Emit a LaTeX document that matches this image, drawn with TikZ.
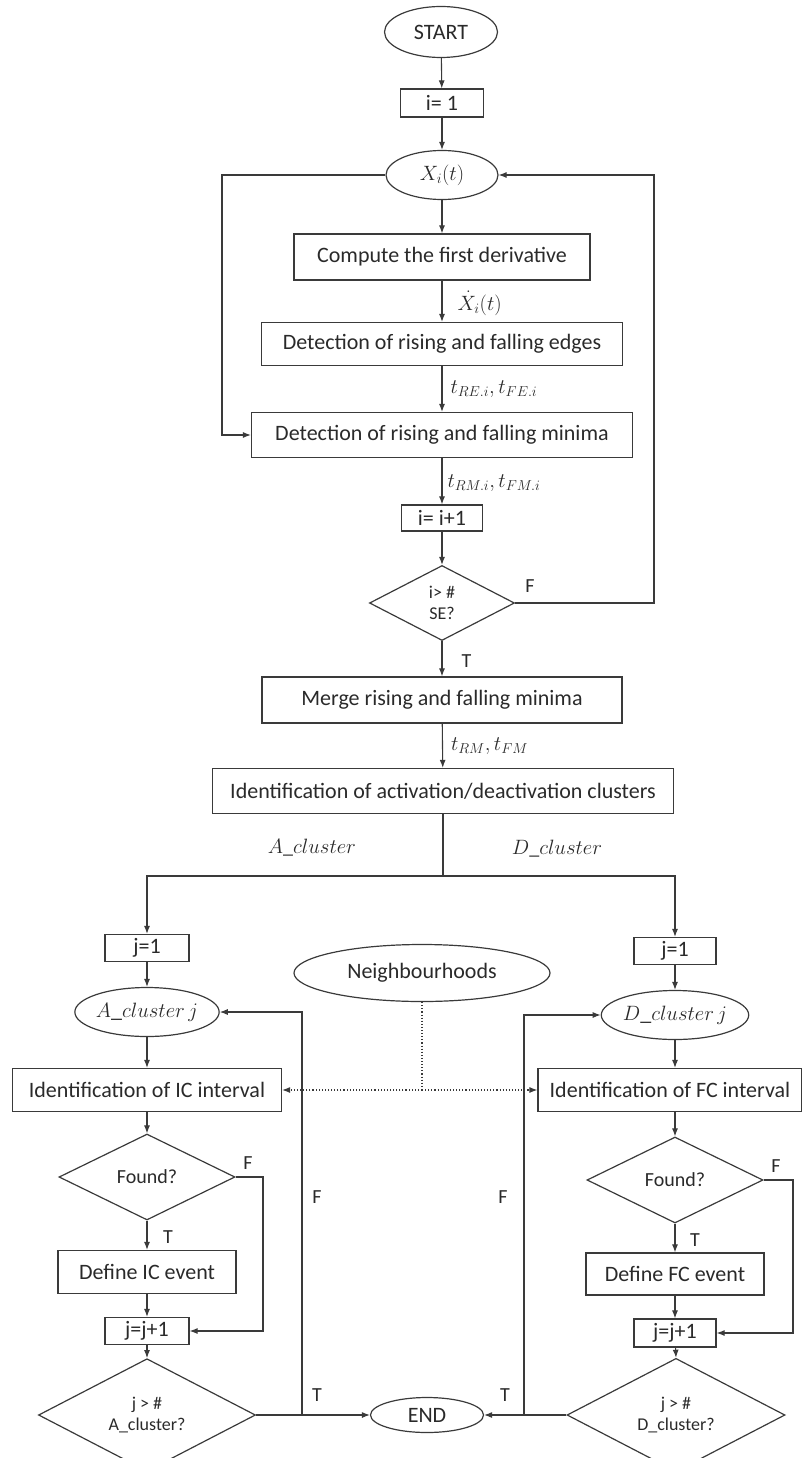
\documentclass[tikz,border=0pt]{standalone}
\usepackage{fontspec}
\setmainfont{Carlito}
\usetikzlibrary{shapes.geometric,arrows.meta}
\definecolor{ink}{HTML}{2A2A2A}
\definecolor{ln}{HTML}{3A3A3A}
\tikzset{
  base/.style={draw=ln, line width=1.2pt, inner sep=0pt, text=ink, font=\fontsize{22}{25}\selectfont},
  boxn/.style={base, rectangle},
  term/.style={base, ellipse},
  dec/.style={base, diamond, align=center, font=\fontsize{18}{21}\selectfont},
  arr/.style={draw=ln, line width=1.1pt, -{Latex[length=8pt,width=6pt]}},
  ln/.style={draw=ln, line width=1.1pt},
  dots/.style={draw=ln, line width=1.1pt, dotted},
  lab/.style={text=ink, font=\fontsize{20}{24}\selectfont, inner sep=0pt},
  mlab/.style={text=ink, font=\fontsize{20}{24}\selectfont, inner sep=0pt, anchor=west}
}
\begin{document}
\begin{tikzpicture}[x=1pt,y=-1pt]
\useasboundingbox (0,0) rectangle (802,1458);
% main column
\node[term, minimum width=113pt, minimum height=51pt] (start) at (441,32) {START};
\node[boxn, minimum width=83pt, minimum height=28pt] (i1) at (442,103) {i= 1};
\node[term, minimum width=112pt, minimum height=49pt] (xi) at (442,175) {$X_i(t)$};
\node[boxn, minimum width=296pt, minimum height=46pt] (comp) at (442,257) {Compute the first derivative};
\node[boxn, minimum width=361pt, minimum height=43pt] (edges) at (442,344) {Detection of rising and falling edges};
\node[boxn, minimum width=381pt, minimum height=45pt] (minima) at (442,435) {Detection of rising and falling minima};
\node[boxn, minimum width=81pt, minimum height=26pt] (ii) at (442,518) {i= i+1};
\node[dec, minimum width=145pt, minimum height=75pt] (d1) at (442,603) {i> \#\\SE?};
\node[boxn, minimum width=360pt, minimum height=46pt] (merge) at (442,700) {Merge rising and falling minima};
\node[boxn, minimum width=461pt, minimum height=45pt] (ident) at (443,791) {Identification of activation/deactivation clusters};
% left column
\node[boxn, minimum width=84pt, minimum height=27pt] (jA) at (147,948) {j=1};
\node[term, minimum width=136pt, minimum height=49pt] (acj) at (147,1012) {$A\_cluster\,j$};
\node[boxn, minimum width=269pt, minimum height=43pt] (ic) at (147,1090) {Identification of IC interval};
\node[dec, minimum width=176pt, minimum height=86pt, font=\fontsize{20}{24}\selectfont] (fA) at (147,1177) {Found?};
\node[boxn, minimum width=178pt, minimum height=43pt] (defA) at (147,1272) {Define IC event};
\node[boxn, minimum width=84pt, minimum height=27pt] (jjA) at (147,1331) {j=j+1};
\node[dec, minimum width=217pt, minimum height=86pt] (dA) at (147,1415) {j > \#\\A\_cluster?};
% right column
\node[boxn, minimum width=82pt, minimum height=27pt] (jD) at (675,951) {j=1};
\node[term, minimum width=136pt, minimum height=49pt] (dcj) at (675,1015) {$D\_cluster\,j$};
\node[boxn, minimum width=264pt, minimum height=43pt] (fc) at (670,1090) {Identification of FC interval};
\node[dec, minimum width=176pt, minimum height=86pt, font=\fontsize{20}{24}\selectfont] (fD) at (675,1180) {Found?};
\node[boxn, minimum width=178pt, minimum height=42pt] (defD) at (675,1274) {Define FC event};
\node[boxn, minimum width=82pt, minimum height=28pt] (jjD) at (675,1333) {j=j+1};
\node[dec, minimum width=218pt, minimum height=86pt] (dD) at (676,1415) {j > \#\\D\_cluster?};
% others
\node[term, minimum width=256pt, minimum height=57pt] (nb) at (422,973) {Neighbourhoods};
\node[term, minimum width=113pt, minimum height=35pt] (end) at (427,1415) {END};

% main flow
\draw[arr] (start) -- (i1);
\draw[arr] (i1) -- (xi);
\draw[arr] (xi) -- (comp);
\draw[arr] (comp) -- node[mlab, right=15pt, yshift=-2pt] {$\dot{X}_i(t)$} (edges);
\draw[arr] (edges) -- node[mlab, right=8pt] {$t_{RE.i}, t_{FE.i}$} (minima);
\draw[arr] (minima) -- node[mlab, right=5pt, yshift=-2pt] {$t_{RM.i}, t_{FM.i}$} (ii);
\draw[arr] (ii) -- (d1);
\draw[arr] (d1) -- node[lab, right=19pt, yshift=-2pt] {T} (merge);
\draw[arr] (merge) -- node[mlab, right=8pt] {$t_{RM}, t_{FM}$} (ident);
% loops
\coordinate (lx) at (222,175);
\draw[arr] (xi.west) -- (lx) |- (minima.west);
\coordinate (rx) at (654,603);
\draw[arr] (d1.east) -- (rx) |- (xi.east);
\node[lab] (fl1) at (530,586) {F};
% split
\coordinate (sp) at (443,876);
\draw[ln] (ident.south) -- (sp);
\draw[arr] (sp) -| (jA.north);
\draw[arr] (sp) -| (jD.north);
\node[lab] (al) at (312,848) {$A\_cluster$};
\node[lab] (dl) at (557,849) {$D\_cluster$};
% left column flow
\draw[arr] (jA) -- (acj);
\draw[arr] (acj) -- (ic);
\draw[arr] (ic) -- (fA);
\draw[arr] (fA) -- (defA);
\draw[arr] (defA) -- (jjA);
\draw[arr] (jjA) -- (dA);
\coordinate (fa1) at (263,1177);
\draw[arr] (fA.east) -- (fa1) |- (jjA.east);
\node[lab] (fla) at (248,1163) {F};
\node[lab] (tla) at (168,1237) {T};
\coordinate (la) at (302,1415);
\draw[arr] (dA.east) -- (end.west);
\draw[arr] (la) |- (acj.east);
\node[lab] (fla2) at (317,1197) {F};
\node[lab] (tla2) at (317,1395) {T};
% right column flow
\draw[arr] (jD) -- (dcj);
\draw[arr] (dcj.south) -- (dcj.south |- fc.north);
\draw[arr] (fD.north |- fc.south) -- (fD.north);
\draw[arr] (fD) -- (defD);
\draw[arr] (defD) -- (jjD);
\draw[arr] (jjD) -- (dD.north);
\coordinate (fd1) at (793,1180);
\draw[arr] (fD.east) -- (fd1) |- (jjD.east);
\node[lab] (fld) at (776,1166) {F};
\node[lab] (tld) at (695,1240) {T};
\coordinate (ld) at (524,1415);
\draw[arr] (dD.west) -- (end.east);
\draw[arr] (ld) |- (dcj.west);
\node[lab] (fld2) at (503,1197) {F};
\node[lab] (tld2) at (505,1395) {T};
% neighbourhoods
\coordinate (nd) at (nb.south |- ic.east);
\draw[dots] (nb.south) -- (nd);
\draw[dots, -{Latex[length=8pt,width=6pt]}] (nd) -- (ic.east);
\draw[dots, -{Latex[length=8pt,width=6pt]}] (nd) -- (fc.west);
\end{tikzpicture}
\end{document}
